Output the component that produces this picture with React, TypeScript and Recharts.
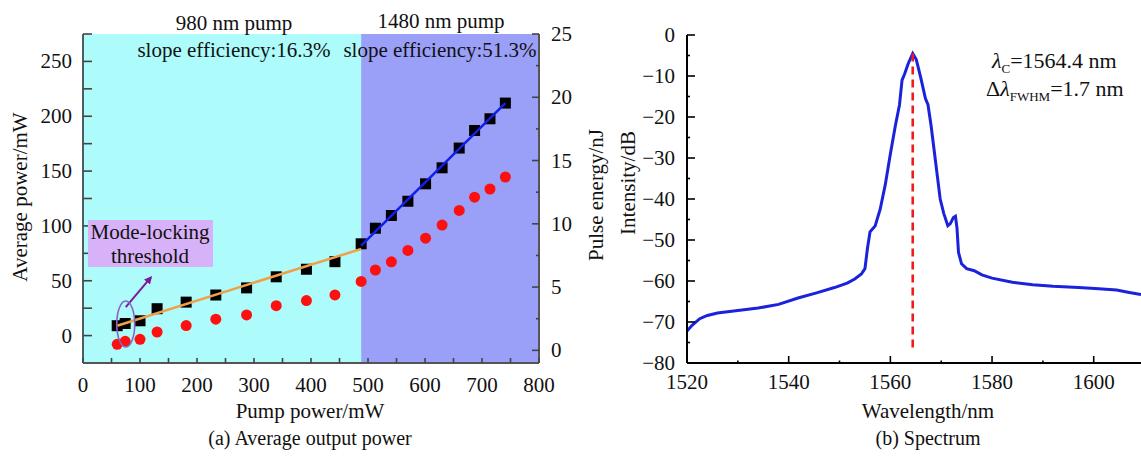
import React from 'react';
import {
  ComposedChart,
  LineChart,
  Line,
  Scatter,
  XAxis,
  YAxis,
  ReferenceArea,
  ReferenceLine,
  ReferenceDot,
} from 'recharts';

const FONT = "'Liberation Serif', 'Times New Roman', serif";

// (a) average output power
const pumpPower = [60, 74, 100, 130, 181, 233, 287, 339, 392, 442, 488, 513, 541, 570, 601, 630, 660, 687, 714, 741];
const avgPower = [9, 11, 13.5, 24.5, 30.5, 37, 43.5, 53.6, 60.5, 67.4, 83.7, 97.9, 109.5, 122.5, 138.4, 153, 171, 187, 197.7, 212];
const pulseEnergy = [0.48, 0.71, 0.87, 1.45, 1.96, 2.46, 2.8, 3.53, 3.93, 4.38, 5.45, 6.35, 7.0, 7.9, 8.86, 9.9, 11.06, 12.1, 12.75, 13.7];

const pumpSplit = 488;
const fit980Pump = [60, 488];
const fit980Power = [9, 79];
const fit1480Pump = [488, 741];
const fit1480Power = [82, 212];
const thresholdPump = 75;
const thresholdPower = 10.5;
const arrowPump = [75, 119];
const arrowPower = [26, 53];

const pumpTicks = [0, 50, 100, 150, 200, 250, 300, 350, 400, 450, 500, 550, 600, 650, 700, 750, 800];
const powerTicks = [0, 25, 50, 75, 100, 125, 150, 175, 200, 225, 250, 275];
const energyTicks = [0, 2.5, 5, 7.5, 10, 12.5, 15, 17.5, 20, 22.5, 25];

// (b) spectrum
const wavelength = [
  1520, 1521, 1522.5, 1524, 1526, 1530, 1534, 1538, 1542, 1545.5, 1549, 1551.5, 1553, 1554.3, 1555, 1555.5,
  1556, 1557, 1558, 1559, 1560, 1561, 1561.8, 1562.3, 1562.8, 1563.5, 1564.4, 1565.1, 1566, 1566.9, 1567.4,
  1568, 1568.6, 1569.2, 1569.8, 1570.5, 1571.3, 1571.8, 1572.4, 1572.8, 1573.1, 1573.4, 1574, 1575, 1576.5,
  1578, 1580, 1584, 1588, 1592, 1597, 1601, 1604.5, 1607, 1609.3,
];
const intensity = [
  -72.2, -70.8, -69.2, -68.4, -67.8, -67.2, -66.6, -65.7, -64.1, -62.9, -61.6, -60.5, -59.5, -58.3, -57, -52,
  -48, -46.6, -42.5, -36.5, -29, -22, -17, -11, -9.5, -7, -4.5, -6, -10.5, -15.5, -17,
  -22, -28, -34, -40, -43.5, -46.5, -46, -44.5, -44.2, -47, -53, -55.8, -57, -57.5,
  -58.5, -59.3, -60.3, -60.9, -61.3, -61.6, -61.9, -62.2, -62.8, -63.3,
];
const centerWl = 1564.4;
const peakDb = -4.5;
const dashBottom = -76.5;
const wlTicks = [1520, 1530, 1540, 1550, 1560, 1570, 1580, 1590, 1600];
const dbTicks = [0, -5, -10, -15, -20, -25, -30, -35, -40, -45, -50, -55, -60, -65, -70, -75, -80];

const squares = pumpPower.map((x, i) => ({ x, y: avgPower[i] }));
const circles = pumpPower.map((x, i) => ({ x, y: pulseEnergy[i] }));
const fit980 = fit980Pump.map((x, i) => ({ x, y: fit980Power[i] }));
const fit1480 = fit1480Pump.map((x, i) => ({ x, y: fit1480Power[i] }));
const spectrum = wavelength.map((wl, i) => ({ wl, db: intensity[i] }));

const fmt = (v: number) => (v < 0 ? '\u2212' + Math.abs(v) : String(v));

type TickOpts = {
  side: 'left' | 'right' | 'bottom';
  every: number;
  long: number;
  short: number;
  color: string;
  gap: number;
};

const axisTick = (o: TickOpts) => (props: any) => {
  const { x, y, payload } = props;
  const v = payload.value as number;
  const labelled = Math.abs(v / o.every - Math.round(v / o.every)) < 1e-6;
  const len = labelled ? o.long : o.short;
  const textStyle = { fontFamily: FONT, fontSize: 21, fill: '#111' };
  if (o.side === 'bottom') {
    return (
      <g>
        <line x1={x} x2={x} y1={y} y2={y - len} stroke={o.color} strokeWidth={1.6} />
        {labelled && (
          <text x={x} y={y + o.gap} textAnchor="middle" style={textStyle}>
            {fmt(v)}
          </text>
        )}
      </g>
    );
  }
  const dir = o.side === 'left' ? 1 : -1;
  return (
    <g>
      <line x1={x} x2={x + dir * len} y1={y} y2={y} stroke={o.color} strokeWidth={1.6} />
      {labelled && (
        <text
          x={x - dir * o.gap}
          y={y + 7}
          textAnchor={o.side === 'left' ? 'end' : 'start'}
          style={textStyle}
        >
          {fmt(v)}
        </text>
      )}
    </g>
  );
};

const noDot = () => <g />;

const PowerChart = () => (
  <ComposedChart width={600} height={457} margin={{ top: 34, right: 6, bottom: 64, left: 23 }}>
    <ReferenceArea yAxisId="left" x1={0} x2={pumpSplit} fill="#aefbfb" fillOpacity={1} stroke="none" />
    <ReferenceArea yAxisId="left" x1={pumpSplit} x2={800} fill="#9a9ff8" fillOpacity={1} stroke="none" />
    <XAxis
      type="number"
      dataKey="x"
      domain={[0, 800]}
      ticks={pumpTicks}
      interval={0}
      allowDataOverflow
      height={30}
      tickSize={0}
      tickMargin={0}
      axisLine={{ stroke: '#555', strokeWidth: 2 }}
      tickLine={false}
      tick={axisTick({ side: 'bottom', every: 100, long: 5, short: 5, color: '#444', gap: 29 })}
    />
    <YAxis
      yAxisId="left"
      type="number"
      dataKey="y"
      domain={[-25, 275]}
      ticks={powerTicks}
      interval={0}
      allowDataOverflow
      width={60}
      tickSize={0}
      tickMargin={0}
      axisLine={{ stroke: '#4f5f5f', strokeWidth: 2 }}
      tickLine={false}
      tick={axisTick({ side: 'left', every: 50, long: 9, short: 9, color: '#444', gap: 11 })}
    />
    <YAxis
      yAxisId="right"
      orientation="right"
      type="number"
      dataKey="y"
      domain={[-1, 25]}
      ticks={energyTicks}
      interval={0}
      allowDataOverflow
      width={55}
      tickSize={0}
      tickMargin={0}
      axisLine={{ stroke: '#555', strokeWidth: 2 }}
      tickLine={false}
      tick={axisTick({ side: 'right', every: 5, long: 7, short: 3, color: '#444', gap: 12 })}
    />
    <Scatter
      yAxisId="left"
      data={squares}
      isAnimationActive={false}
      shape={(p: any) => <rect x={p.cx - 5.5} y={p.cy - 5.5} width={11} height={11} fill="#000" />}
    />
    <Scatter
      yAxisId="right"
      data={circles}
      isAnimationActive={false}
      shape={(p: any) => <circle cx={p.cx} cy={p.cy} r={5.5} fill="#ff1010" />}
    />
    <Scatter
      yAxisId="left"
      data={fit980}
      isAnimationActive={false}
      line={{ stroke: '#f0a048', strokeWidth: 2.5 }}
      shape={noDot}
    />
    <Scatter
      yAxisId="left"
      data={fit1480}
      isAnimationActive={false}
      line={{ stroke: '#1020e8', strokeWidth: 2.5 }}
      shape={noDot}
    />
    <ReferenceDot
      yAxisId="left"
      x={thresholdPump}
      y={thresholdPower}
      shape={(p: any) => (
        <ellipse cx={p.cx} cy={p.cy} rx={9} ry={23} fill="none" stroke="#8a63c4" strokeWidth={1.6} />
      )}
    />
    <ReferenceLine
      yAxisId="left"
      segment={[
        { x: arrowPump[0], y: arrowPower[0] },
        { x: arrowPump[1], y: arrowPower[1] },
      ]}
      stroke="#7a1c9a"
      strokeWidth={2}
      markerEnd="url(#arrowHead)"
    />
  </ComposedChart>
);

const SpectrumChart = () => (
  <LineChart width={541} height={457} data={spectrum} margin={{ top: 35, right: 0, bottom: 64, left: 27 }}>
    <XAxis
      type="number"
      dataKey="wl"
      domain={[1520, 1609.3]}
      ticks={wlTicks}
      interval={0}
      allowDataOverflow
      height={30}
      tickSize={0}
      tickMargin={0}
      axisLine={{ stroke: '#000', strokeWidth: 2 }}
      tickLine={false}
      tick={axisTick({ side: 'bottom', every: 20, long: 7, short: 2.5, color: '#000', gap: 26 })}
    />
    <YAxis
      type="number"
      domain={[-80, 0]}
      ticks={dbTicks}
      interval={0}
      allowDataOverflow
      width={60}
      tickSize={0}
      tickMargin={0}
      axisLine={{ stroke: '#000', strokeWidth: 2 }}
      tickLine={false}
      tick={axisTick({ side: 'left', every: 10, long: 8, short: 3, color: '#000', gap: 12 })}
    />
    <Line
      type="linear"
      dataKey="db"
      stroke="#1a22dc"
      strokeWidth={3}
      dot={false}
      isAnimationActive={false}
    />
    <ReferenceLine
      segment={[
        { x: centerWl, y: peakDb },
        { x: centerWl, y: dashBottom },
      ]}
      stroke="#ee1c1c"
      strokeWidth={2.6}
      strokeDasharray="8 5"
    />
  </LineChart>
);

const txt = { fontFamily: FONT, fontSize: 21, fill: '#111' };

const Overlay = () => (
  <svg
    width={1141}
    height={457}
    style={{ position: 'absolute', left: 0, top: 0, pointerEvents: 'none' }}
  >
    <defs>
      <marker id="arrowHead" markerWidth="8" markerHeight="8" refX="6" refY="4" orient="auto" markerUnits="userSpaceOnUse">
        <path d="M0,0 L8,4 L0,8 z" fill="#7a1c9a" />
      </marker>
    </defs>
    <text x={234} y={30} textAnchor="middle" style={txt}>980 nm pump</text>
    <text x={234} y={57} textAnchor="middle" style={txt}>slope efficiency:16.3%</text>
    <text x={441} y={28} textAnchor="middle" style={txt}>1480 nm pump</text>
    <text x={440} y={57} textAnchor="middle" style={txt}>slope efficiency:51.3%</text>

    <rect x={88} y={220} width={125} height={47} fill="#d8b2f8" />
    <text x={150} y={239} textAnchor="middle" style={txt}>Mode-locking</text>
    <text x={150} y={263} textAnchor="middle" style={txt}>threshold</text>

    <text transform="translate(27,197) rotate(-90)" textAnchor="middle" style={txt}>Average power/mW</text>
    <text transform="translate(603,195) rotate(-90)" textAnchor="middle" style={txt}>Pulse energy/nJ</text>
    <text transform="translate(635,183) rotate(-90)" textAnchor="middle" style={txt}>Intensity/dB</text>

    <text x={310} y={418} textAnchor="middle" style={txt}>Pump power/mW</text>
    <text x={928} y={418} textAnchor="middle" style={txt}>Wavelength/nm</text>
    <text x={310} y={445} textAnchor="middle" style={{ ...txt, fontSize: 20 }}>(a) Average output power</text>
    <text x={928} y={445} textAnchor="middle" style={{ ...txt, fontSize: 20 }}>(b) Spectrum</text>

    <text x={992} y={68} style={{ ...txt, fontSize: 22 }}>
      <tspan fontStyle="italic">λ</tspan>
      <tspan fontSize={13} dy={5}>C</tspan>
      <tspan dy={-5}>=1564.4 nm</tspan>
    </text>
    <text x={986} y={96} style={{ ...txt, fontSize: 22 }}>
      Δ<tspan fontStyle="italic">λ</tspan>
      <tspan fontSize={13} dy={5}>FWHM</tspan>
      <tspan dy={-5}>=1.7 nm</tspan>
    </text>
  </svg>
);

export default function App() {
  return (
    <div style={{ position: 'absolute', left: 0, top: 0, width: 1141, height: 457, background: '#fff' }}>
      <div style={{ position: 'absolute', left: 0, top: 0 }}>
        <PowerChart />
      </div>
      <div style={{ position: 'absolute', left: 600, top: 0 }}>
        <SpectrumChart />
      </div>
      <Overlay />
    </div>
  );
}
